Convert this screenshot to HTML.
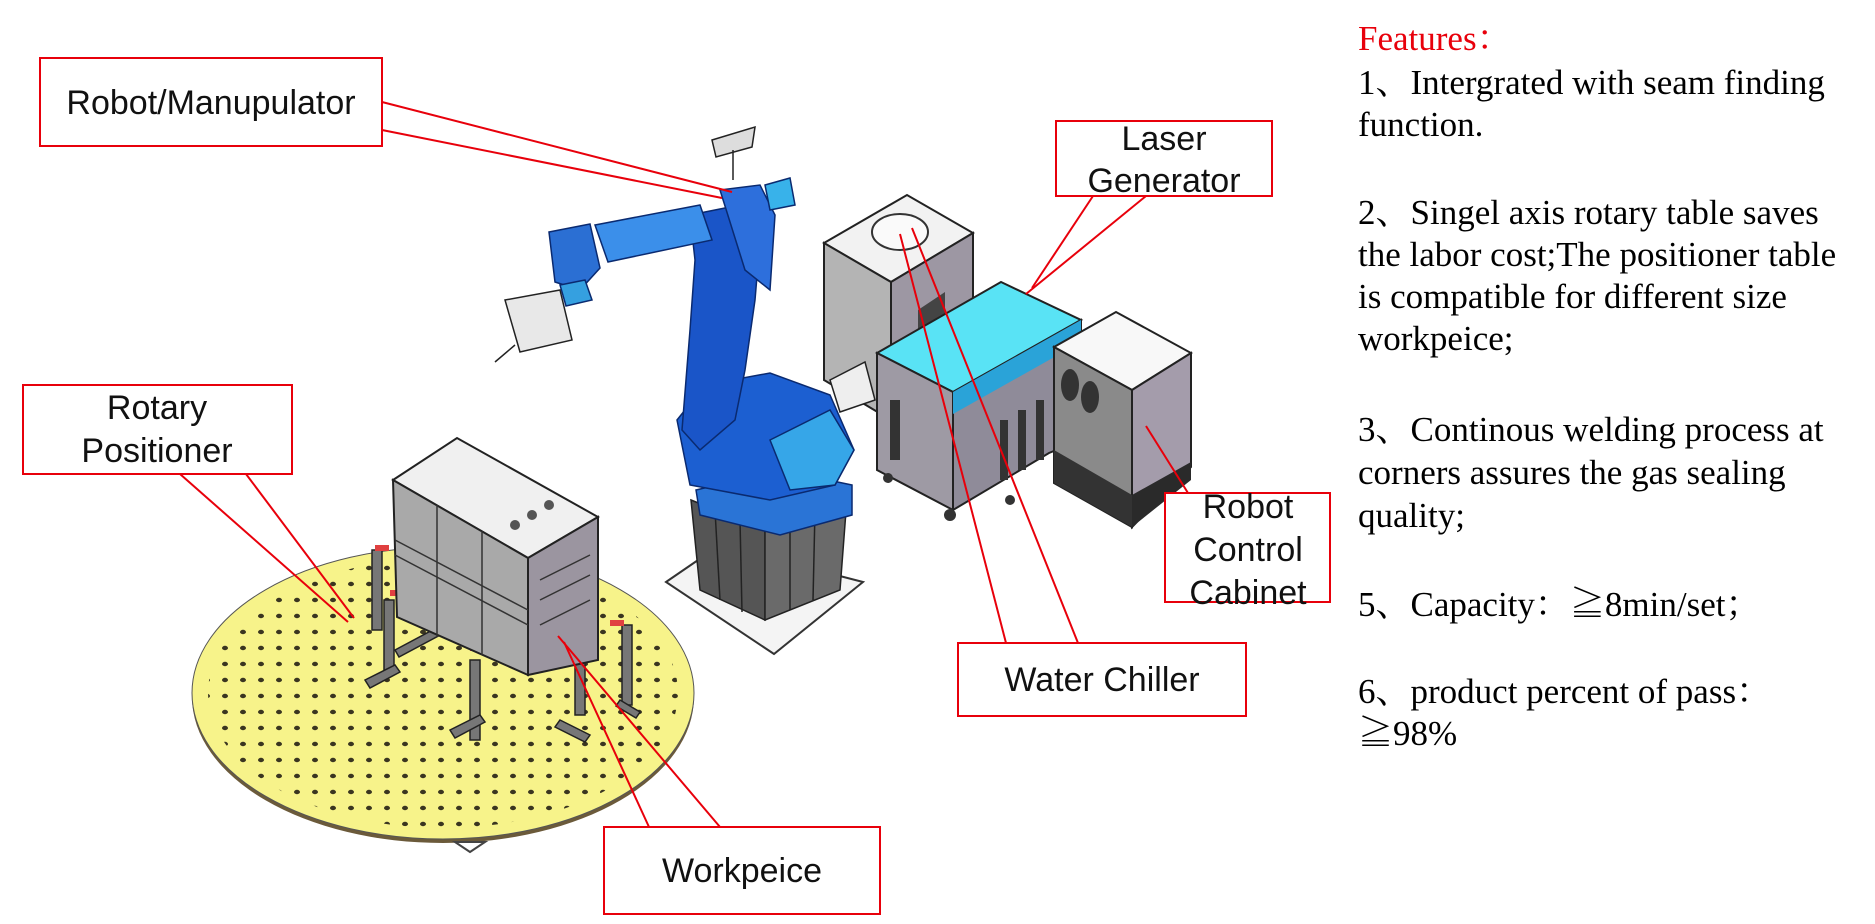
<!DOCTYPE html>
<html><head><meta charset="utf-8"><style>
html,body{margin:0;padding:0;background:#fff;width:1875px;height:924px;overflow:hidden}
svg{display:block}
.lbl{font-family:"Liberation Sans","Noto Sans CJK SC",sans-serif;font-size:34px;fill:#111}
.ft{font-family:"Liberation Serif","Noto Serif CJK SC",serif;font-size:35px;fill:#000}
</style></head><body>
<svg width="1875" height="924" viewBox="0 0 1875 924" xmlns="http://www.w3.org/2000/svg">
<defs>
<pattern id="dots" width="18" height="16" patternUnits="userSpaceOnUse">
<ellipse cx="9" cy="8" rx="3" ry="2.2" fill="#3a3520"/>
</pattern>
</defs>
<!-- rotary table -->
<ellipse cx="443" cy="697" rx="251" ry="146" fill="#6b5a3a"/>
<ellipse cx="443" cy="693" rx="251" ry="146" fill="#f7f38a" stroke="#555" stroke-width="1"/>
<ellipse cx="443" cy="693" rx="235" ry="135" fill="url(#dots)"/>
<polygon points="455,842 470,852 485,842" fill="none" stroke="#444" stroke-width="2"/>
<!-- fixtures -->
<g fill="#777" stroke="#222" stroke-width="1.5">
<rect x="372" y="550" width="10" height="80"/>
<rect x="384" y="600" width="10" height="70"/>
<rect x="470" y="660" width="10" height="80"/>
<rect x="575" y="625" width="10" height="90"/>
<rect x="622" y="625" width="10" height="80"/>
<polygon points="365,680 395,665 400,672 370,688"/>
<polygon points="450,730 480,715 485,722 455,738"/>
<polygon points="560,720 590,735 585,742 555,727"/>
<polygon points="620,700 640,712 636,718 616,706"/>
<polygon points="395,650 470,610 474,617 399,657"/>
</g>
<g fill="#e04040"><rect x="375" y="545" width="14" height="6"/><rect x="390" y="590" width="14" height="6"/><rect x="470" y="645" width="14" height="6"/><rect x="560" y="650" width="14" height="6"/><rect x="610" y="620" width="14" height="6"/></g>
<!-- workpiece box -->
<polygon points="393,480 457,438 598,517 528,558" fill="#f0f0f0" stroke="#222" stroke-width="2"/>
<polygon points="393,480 528,558 528,675 397,617" fill="#a9a9a9" stroke="#222" stroke-width="2"/>
<polygon points="528,558 598,517 598,660 528,675" fill="#9b95a0" stroke="#222" stroke-width="2"/>
<g stroke="#333" stroke-width="1.5" fill="none">
<line x1="437" y1="505" x2="437" y2="637"/><line x1="482" y1="531" x2="482" y2="655"/>
<line x1="395" y1="540" x2="528" y2="610"/><line x1="395" y1="555" x2="528" y2="625"/>
<line x1="540" y1="580" x2="590" y2="555"/><line x1="540" y1="600" x2="590" y2="575"/><line x1="540" y1="625" x2="590" y2="600"/>
</g>
<circle cx="515" cy="525" r="5" fill="#555"/><circle cx="532" cy="515" r="5" fill="#555"/><circle cx="549" cy="505" r="5" fill="#555"/>
<!-- chiller (behind) -->
<polygon points="824,243 907,195 973,233 891,282" fill="#f2f2f2" stroke="#222" stroke-width="2"/>
<polygon points="824,243 891,282 891,420 824,380" fill="#b4b4b4" stroke="#222" stroke-width="2"/>
<polygon points="891,282 973,233 973,380 891,420" fill="#9d97a3" stroke="#222" stroke-width="2"/>
<ellipse cx="900" cy="232" rx="28" ry="18" fill="#fafafa" stroke="#333" stroke-width="2"/>
<polygon points="918,310 945,292 945,330 918,348" fill="#444"/>
<!-- pedestal -->
<polygon points="666,582 720,545 863,582 774,654" fill="#f4f4f4" stroke="#333" stroke-width="2"/>
<polygon points="691,500 765,530 765,620 700,590" fill="#555" stroke="#222" stroke-width="1.5"/>
<polygon points="765,530 847,498 840,590 765,620" fill="#6a6a6a" stroke="#222" stroke-width="1.5"/>
<g stroke="#222" stroke-width="1.5"><line x1="715" y1="510" x2="720" y2="600"/><line x1="740" y1="520" x2="742" y2="612"/><line x1="790" y1="520" x2="790" y2="610"/><line x1="815" y1="510" x2="813" y2="600"/></g>
<!-- robot -->
<g stroke="#0a2a70" stroke-width="1.5">
<polygon points="696,490 780,470 852,485 852,515 780,535 700,515" fill="#2a74d6"/>
<polygon points="677,420 705,385 770,373 830,395 854,450 835,485 770,500 690,485" fill="#1c5fd1"/>
<polygon points="770,440 830,410 854,450 835,485 790,490" fill="#36a6e8"/>
<polygon points="690,215 740,205 760,240 755,300 745,370 735,420 700,450 682,430 690,330 695,260" fill="#1a55c8"/>
<polygon points="720,190 760,185 775,215 770,290 745,270" fill="#2d6fdc"/>
<polygon points="595,225 700,205 712,240 608,262" fill="#3b8fea"/>
<polygon points="549,232 590,224 600,268 580,290 555,282" fill="#2b6fd3"/>
<polygon points="560,285 585,280 592,300 566,306" fill="#35a0e0"/>
<polygon points="765,185 790,178 795,205 770,210" fill="#38b2ea"/>
</g>
<polygon points="505,300 560,290 572,340 520,352" fill="#e8e8e8" stroke="#222" stroke-width="1.5"/>
<line x1="515" y1="345" x2="495" y2="362" stroke="#222" stroke-width="1.5"/>
<polygon points="712,140 755,127 752,147 716,157" fill="#ddd" stroke="#222" stroke-width="1.5"/>
<line x1="733" y1="150" x2="733" y2="180" stroke="#222" stroke-width="1.5"/>
<polygon points="830,380 865,362 875,400 840,412" fill="#eee" stroke="#222" stroke-width="1.5"/>
<!-- laser generator -->
<polygon points="877,353 1001,282 1081,320 953,392" fill="#59e3f5" stroke="#222" stroke-width="2"/>
<polygon points="877,353 953,392 953,510 877,470" fill="#9e9aa4" stroke="#222" stroke-width="2"/>
<polygon points="953,392 1081,320 1081,440 1049,453 953,510" fill="#8f8b99" stroke="#222" stroke-width="2"/>
<polygon points="953,392 1081,320 1081,342 953,414" fill="#2aa3d8"/>
<g fill="#333"><rect x="890" y="400" width="10" height="60"/><rect x="1000" y="420" width="8" height="60"/><rect x="1018" y="410" width="8" height="60"/><rect x="1036" y="400" width="8" height="60"/></g>
<circle cx="888" cy="478" r="5" fill="#333"/><circle cx="950" cy="515" r="6" fill="#333"/><circle cx="1010" cy="500" r="5" fill="#333"/>
<!-- robot control cabinet -->
<polygon points="1054,347 1116,312 1191,353 1132,390" fill="#f8f8f8" stroke="#222" stroke-width="2"/>
<polygon points="1054,347 1132,390 1132,527 1054,483" fill="#8a8a8a" stroke="#222" stroke-width="2"/>
<polygon points="1132,390 1191,353 1191,467 1132,527" fill="#a49cab" stroke="#222" stroke-width="2"/>
<polygon points="1054,450 1132,495 1132,527 1054,483" fill="#333"/>
<polygon points="1132,495 1191,462 1191,480 1132,527" fill="#2a2a2a"/>
<ellipse cx="1070" cy="385" rx="9" ry="16" fill="#333"/><ellipse cx="1090" cy="397" rx="9" ry="16" fill="#333"/>
<!-- callout lines -->
<g stroke="#e8000b" stroke-width="2" fill="none">
<polyline points="382,102 732,192"/><polyline points="382,130 722,198"/>
<polyline points="1093,196 1032,288"/><polyline points="1146,196 1026,294"/>
<polyline points="180,474 348,622"/><polyline points="246,474 354,618"/>
<polyline points="1188,493 1146,426"/>
<polyline points="1006,643 900,234"/><polyline points="1078,643 912,228"/>
<polyline points="649,827 564,642"/><polyline points="720,827 558,636"/>
</g>
<!-- label boxes -->
<g fill="#fff" stroke="#e8000b" stroke-width="2">
<rect x="40" y="58" width="342" height="88"/>
<rect x="1056" y="121" width="216" height="75"/>
<rect x="23" y="385" width="269" height="89"/>
<rect x="1165" y="493" width="165" height="109"/>
<rect x="958" y="643" width="288" height="73"/>
<rect x="604" y="827" width="276" height="87"/>
</g>
<text class="lbl" x="211" y="114" text-anchor="middle">Robot/Manupulator</text>
<text class="lbl" x="1164" y="150" text-anchor="middle">Laser</text>
<text class="lbl" x="1164" y="192" text-anchor="middle">Generator</text>
<text class="lbl" x="157" y="419" text-anchor="middle">Rotary</text>
<text class="lbl" x="157" y="462" text-anchor="middle">Positioner</text>
<text class="lbl" x="1248" y="518" text-anchor="middle">Robot</text>
<text class="lbl" x="1248" y="561" text-anchor="middle">Control</text>
<text class="lbl" x="1248" y="604" text-anchor="middle">Cabinet</text>
<text class="lbl" x="1102" y="691" text-anchor="middle">Water Chiller</text>
<text class="lbl" x="742" y="882" text-anchor="middle">Workpeice</text>
<!-- features -->
<text class="ft" x="1358" y="50" style="fill:#e8000b">Features：</text>
<text class="ft" x="1358" y="94">1、Intergrated with seam finding</text>
<text class="ft" x="1358" y="136">function.</text>
<text class="ft" x="1358" y="224">2、Singel axis rotary table saves</text>
<text class="ft" x="1358" y="266">the labor cost;The positioner table</text>
<text class="ft" x="1358" y="308">is compatible for different size</text>
<text class="ft" x="1358" y="350">workpeice;</text>
<text class="ft" x="1358" y="441">3、Continous welding process at</text>
<text class="ft" x="1358" y="484">corners assures the gas sealing</text>
<text class="ft" x="1358" y="527">quality;</text>
<text class="ft" x="1358" y="616">5、Capacity：≧8min/set；</text>
<text class="ft" x="1358" y="703">6、product percent of pass：</text>
<text class="ft" x="1358" y="745">≧98%</text>
</svg>
</body></html>
